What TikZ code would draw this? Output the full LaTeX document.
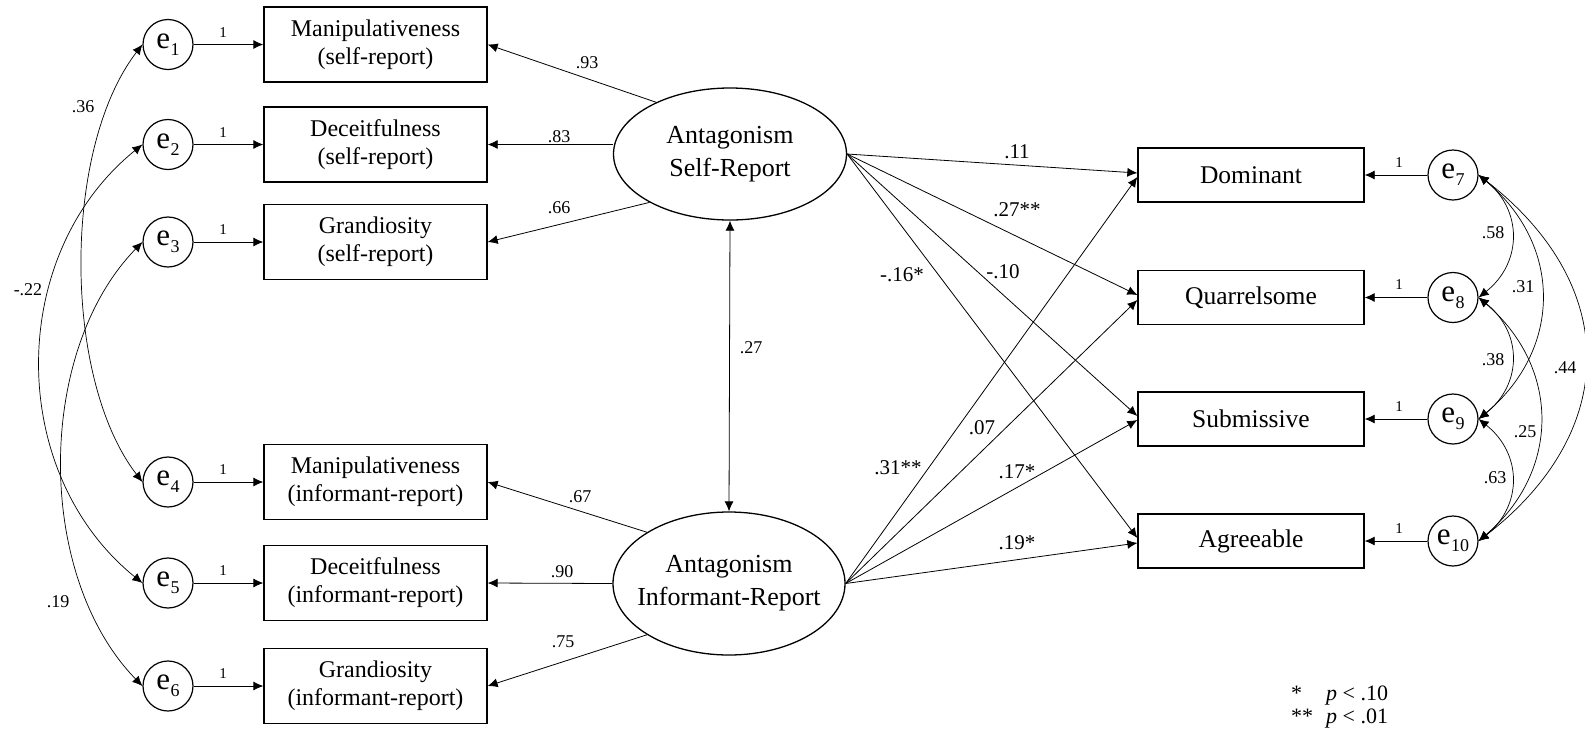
\documentclass[tikz,border=0pt]{standalone}
\usepackage{fontspec}
\setmainfont{Liberation Serif}
\usetikzlibrary{shapes.geometric,arrows.meta}

% error term label: e with a lowered index
\newcommand{\elab}[1]{e\kern0.3pt\raisebox{-0.22em}{\fontsize{18}{18}\selectfont #1}}

\begin{document}
\begin{tikzpicture}[x=1pt,y=-1pt,
  box/.style={draw,line width=1.3pt,inner sep=0pt,align=center},
  lbox/.style={box,minimum width=223pt,minimum height=75pt,font=\fontsize{24}{28}\selectfont},
  rbox/.style={box,minimum width=226pt,minimum height=54pt,font=\fontsize{25.5}{30}\selectfont},
  latent/.style={ellipse,draw,line width=1.3pt,inner sep=0pt},
  lattext/.style={align=center,inner sep=0pt,font=\fontsize{26}{33}\selectfont},
  errc/.style={circle,draw,line width=1.2pt,minimum size=50pt,inner sep=0pt,font=\fontsize{31}{31}\selectfont},
  arr/.style={line width=0.8pt,-{Latex[length=10pt,width=9pt]}},
  cov/.style={line width=0.7pt,{Latex[length=10pt,width=9pt]}-{Latex[length=10pt,width=9pt]}},
  onelab/.style={font=\fontsize{15}{15}\selectfont,inner sep=0pt},
  coef/.style={font=\fontsize{18}{18}\selectfont,inner sep=0pt},
  path/.style={font=\fontsize{21}{21}\selectfont,inner sep=0pt},
  legend/.style={font=\fontsize{22}{22}\selectfont,inner sep=0pt,anchor=base west},
]
\fill[white] (0,0) rectangle (1585,740);
\useasboundingbox (0,0) rectangle (1585,740);

% indicators
\node[lbox] (m1) at (375.5,44.5) {Manipulativeness\\(self-report)};
\node[lbox] (m2) at (375.5,144.5) {Deceitfulness\\(self-report)};
\node[lbox] (m3) at (375.5,242) {Grandiosity\\(self-report)};
\node[lbox] (m4) at (375.5,482) {Manipulativeness\\(informant-report)};
\node[lbox] (m5) at (375.5,583) {Deceitfulness\\(informant-report)};
\node[lbox] (m6) at (375.5,686) {Grandiosity\\(informant-report)};

% outcomes
\node[rbox] (dom) at (1251,175) {Dominant};
\node[rbox] (qua) at (1251,297.5) {Quarrelsome};
\node[rbox] (sub) at (1251,419) {Submissive};
\node[rbox] (agr) at (1251,541) {Agreeable};

% latent factors
\node[latent,minimum width=233pt,minimum height=132pt] (sr) at (730,154) {};
\node[lattext] (srt) at (sr) {Antagonism\\Self-Report};
\node[latent,minimum width=232pt,minimum height=143pt] (ir) at (729,583.5) {};
\node[lattext] (irt) at (ir) {Antagonism\\Informant-Report};

% error terms
\node[errc] (e1) at (168,44.5) {\elab{1}};
\node[errc] (e2) at (168,144.5) {\elab{2}};
\node[errc] (e3) at (168,242) {\elab{3}};
\node[errc] (e4) at (168,482) {\elab{4}};
\node[errc] (e5) at (168,583) {\elab{5}};
\node[errc] (e6) at (168,686) {\elab{6}};
\node[errc] (e7) at (1453,175) {\elab{7}};
\node[errc] (e8) at (1453,297.5) {\elab{8}};
\node[errc] (e9) at (1453,419) {\elab{9}};
\node[errc] (e10) at (1453,541) {\elab{10}};

% error paths
\foreach \e/\m in {e1/m1,e2/m2,e3/m3,e4/m4,e5/m5,e6/m6}
  \draw[arr] (\e) -- (\m);
\foreach \e/\m in {e7/dom,e8/qua,e9/sub,e10/agr}
  \draw[arr] (\e) -- (\m);
\node[onelab] (o1) at (223,33) {1};
\node[onelab] (o2) at (223,133) {1};
\node[onelab] (o3) at (223,230) {1};
\node[onelab] (o4) at (223,470) {1};
\node[onelab] (o5) at (223,571) {1};
\node[onelab] (o6) at (223,674) {1};
\node[onelab] (o7) at (1399,163) {1};
\node[onelab] (o8) at (1399,285) {1};
\node[onelab] (o9) at (1399,407) {1};
\node[onelab] (o10) at (1399,529) {1};

% loadings
\draw[arr] (sr.145) -- (m1.east);
\draw[arr] (sr.west |- m2.east) -- (m2.east);
\draw[arr] (sr.211) -- (m3.east);
\draw[arr] (ir.148) -- (m4.east);
\draw[arr] (ir.west) -- (m5.east);
\draw[arr] (ir.212) -- (m6.east);
\node[coef] (l1) at (587,63) {.93};
\node[coef] (l2) at (559,137) {.83};
\node[coef] (l3) at (559,208) {.66};
\node[coef] (l4) at (580,497) {.67};
\node[coef] (l5) at (562,572) {.90};
\node[coef] (l6) at (563,642) {.75};

% factor correlation
\draw[cov,line width=0.8pt] (sr.south) -- (ir.north);
\node[coef] (r12) at (751,348) {.27};

% structural paths
\draw[arr] (sr.east) -- ([yshift=2pt]dom.west);
\draw[arr] (sr.east) -- ([yshift=2.5pt]qua.west);
\draw[arr] (sr.east) -- ([yshift=3pt]sub.west);
\draw[arr] (sr.east) -- ([yshift=3pt]agr.west);
\draw[arr] (ir.east) -- ([yshift=-2pt]dom.west);
\draw[arr] (ir.east) -- ([yshift=-2.5pt]qua.west);
\draw[arr] (ir.east) -- ([yshift=-1pt]sub.west);
\draw[arr] (ir.east) -- ([yshift=-2pt]agr.west);
\node[path] (b1) at (1017,152) {.11};
\node[path] (b2) at (1017,210) {.27**};
\node[path] (b3) at (1003,272) {-.10};
\node[path] (b4) at (902,275) {-.16*};
\node[path] (b5) at (982,428) {.07};
\node[path] (b6) at (898,468) {.31**};
\node[path] (b7) at (1017,472) {.17*};
\node[path] (b8) at (1017,543) {.19*};

% residual covariances, self and informant reports
\draw[cov] (e1.west) .. controls +(-80,104) and +(-80,-104) .. (e4.west);
\draw[cov] (e2.west) .. controls +(-136,110) and +(-136,-110) .. (e5.west);
\draw[cov] (e3.west) .. controls +(-107,110) and +(-107,-110) .. (e6.west);
\node[coef] (c14) at (83,107) {.36};
\node[coef] (c25) at (28,290) {-.22};
\node[coef] (c36) at (58,602) {.19};

% residual covariances among outcomes
\draw[cov] (e7.east) .. controls +(44,35) and +(44,-35) .. (e8.east);
\draw[cov] (e7.east) .. controls +(84,70) and +(84,-70) .. (e9.east);
\draw[cov] (e7.east) .. controls +(142,110) and +(142,-110) .. (e10.east);
\draw[cov] (e8.east) .. controls +(44,35) and +(44,-35) .. (e9.east);
\draw[cov] (e8.east) .. controls +(82,70) and +(82,-70) .. (e10.east);
\draw[cov] (e9.east) .. controls +(44,35) and +(44,-35) .. (e10.east);
\node[coef] (c78) at (1493,233) {.58};
\node[coef] (c79) at (1523,287) {.31};
\node[coef] (c89) at (1493,360) {.38};
\node[coef] (c710) at (1565,368) {.44};
\node[coef] (c810) at (1525,432) {.25};
\node[coef] (c910) at (1495,478) {.63};

% significance key
\node[legend] (k1) at (1291,700) {*};
\node[legend] (k2) at (1326,700) {\textit{p} < .10};
\node[legend] (k3) at (1291,723) {**};
\node[legend] (k4) at (1326,723) {\textit{p} < .01};
\end{tikzpicture}
\end{document}
